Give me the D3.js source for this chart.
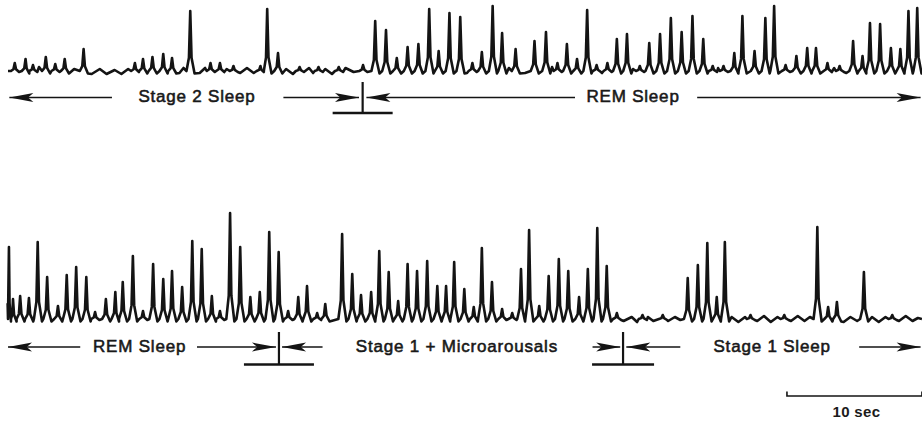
<!DOCTYPE html>
<html>
<head>
<meta charset="utf-8">
<script src="https://cdn.jsdelivr.net/npm/d3@7"></script>
<style>
  html, body { margin: 0; padding: 0; background: #ffffff; }
  svg { display: block; }
  text { font-family: "Liberation Sans", Arial, Helvetica, sans-serif; fill: #1b1b1b; }
</style>
</head>
<body>
<svg id="chart" width="922" height="421"></svg>
<script>
// ---------------- DATA (times in seconds, amplitudes in arbitrary units) ----------------
// Upper trace: Stage 2 sleep -> REM sleep (main deflections)
const topTimes = [0.5, 1.3, 1.85, 2.8, 3.5, 4.2, 5.6, 9.4, 10.0, 10.7, 11.5, 12.15, 13.5, 15.0, 15.7, 16.7, 18.7, 19.2, 20.0,
  21.6, 23.0, 24.5, 26.3, 27.2, 28.0, 28.8, 29.6, 30.4, 31.2, 31.9, 32.7, 33.5, 34.4, 35.1, 35.9, 36.6, 37.6, 39.0, 39.85, 40.7,
  41.4, 42.15, 42.9, 43.6, 44.4, 45.1, 45.85, 46.8, 47.5, 48.3, 49.1, 49.9, 50.7, 51.5, 52.2, 53.0, 53.8, 54.4, 55.3, 56.1,
  56.75, 57.6, 58.4, 59.2, 59.85, 60.7, 61.6, 62.6, 63.3, 63.85, 64.6, 65.4, 66.1, 66.7, 67.35];
const topAmps = [8, 12, 6, 14, 7, 12, 22, 8, 12, 14, 17, 13, 60, 8, 8, 5, 5, 62, 18,
  4, 4, 4, 6, 50, 41, 13, 24, 27, 62, 20, 58, 54, 8, 19, 65, 38, 22, 30, 39, 8,
  27, 12, 61, 6, 8, 32, 37, 5, 28, 37, 53, 39, 55, 32, 5, 5, 18, 55, 20, 53,
  65, 6, 15, 23, 23, 8, 5, 30, 15, 48, 47, 23, 22, 60, 63];
// Upper trace: small baseline ripple
const topRippleTimes = [0.2, 0.85, 2.3, 3.15, 3.9, 4.9, 6.2, 6.8, 7.3, 7.9, 8.4, 8.9, 12.7, 13.0, 14.2, 14.6, 16.2, 17.2, 17.7, 18.2,
  20.6, 21.1, 22.3, 22.6, 23.5, 24.0, 25.0, 25.6, 34.0, 37.1, 38.3, 40.3, 44.0, 46.3, 52.6, 57.1, 61.2, 62.1];
const topRippleAmps = [3, -2, 4, -2, 3, 2, -3, 2, -3, 1, -3, 2, -2, 3, -2, 3, 2, -2, 3, -2,
  2, -3, 3, -2, 2, -3, 3, -1, -2, 3, -2, 4, -2, 2, 3, -2, 3, -2];

// Lower trace: REM sleep -> Stage 1 + microarousals -> Stage 1 sleep (main deflections)
const bottomTimes = [0.07, 0.37, 0.9, 1.55, 2.2, 2.9, 3.7, 4.35, 5.05, 5.8, 6.45, 7.25, 7.95, 8.5, 9.25, 10.0, 10.75, 11.5,
  12.15, 12.9, 13.65, 14.35, 15.1, 15.7, 16.45, 17.2, 17.95, 18.65, 19.35, 20.05, 20.75, 21.5, 22.15, 22.9, 23.5, 24.75,
  25.5, 26.15, 26.9, 27.5, 28.2, 28.9, 29.6, 30.3, 31.05, 31.8, 32.45, 33.05, 33.8, 34.5, 35.1, 35.85, 36.6, 37.35, 38.0,
  38.6, 39.35, 40.05, 40.8, 41.5, 42.3, 42.95, 43.65, 44.35, 45.1, 47.0, 48.5, 50.35, 51.1, 51.8, 52.5, 53.1, 55.0, 57.5,
  59.95, 60.75, 61.4, 63.4, 65.5];
const bottomAmps = [72, 20, 23, 21, 77, 42, 13, 44, 52, 42, 7, 20, 27, 37, 63, 8, 55, 40,
  48, 32, 78, 70, 23, 8, 106, 72, 22, 27, 87, 67, 8, 22, 33, 6, 15, 85,
  45, 24, 27, 68, 47, 18, 55, 48, 58, 33, 33, 57, 30, 12, 71, 37, 10, 6, 50,
  89, 13, 43, 60, 48, 22, 50, 91, 53, 6, 4, 4, 41, 54, 76, 22, 77, 4, 4,
  92, 12, 17, 47, 4];
// Lower trace: small baseline ripple
const bottomRippleTimes = [45.6, 46.2, 46.6, 47.4, 47.8, 48.2, 48.9, 49.4, 49.8, 53.6, 54.1, 54.6, 55.5, 56.0, 56.5, 57.0,
  58.0, 58.5, 59.0, 59.4, 61.9, 62.4, 62.9, 64.0, 64.5, 65.0, 66.0, 66.5, 67.0, 67.4];
const bottomRippleAmps = [-2, 2, -3, 2, -2, 3, -2, 2, -1, 2, -3, 2, -2, 3, -3, 2,
  -2, 3, -2, 2, -3, 2, -2, 2, -3, 2, -2, 3, -2, 1];

// Stage labels (text, centre time)
const topLabelText = ["Stage 2 Sleep", "REM Sleep"];
const topLabelTime = [14.0, 46.3];
const bottomLabelText = ["REM Sleep", "Stage 1 + Microarousals", "Stage 1 Sleep"];
const bottomLabelTime = [9.75, 33.25, 56.6];

// Stage transitions (time of the vertical marker)
const topTransitions = [26.27];
const bottomTransitions = [20.07, 45.56];

// Arrow segments: [start time, end time, arrow-head side]
const topArrows = [[0.1, 7.7, "start"], [20.4, 26.0, "end"], [26.55, 42.0, "start"], [51.05, 67.6, "end"]];
const bottomArrows = [[0.0, 5.35, "start"], [14.0, 19.85, "end"], [20.3, 23.3, "start"], [43.3, 45.35, "end"], [45.8, 49.8, "start"], [63.05, 67.6, "end"]];

// Scale bar
const scaleBarSeconds = 10;
const scaleBarStart = 57.7;
const scaleBarLabel = "10 sec";

// ---------------- DRAWING ----------------
const svg = d3.select("#chart");
const x = d3.scaleLinear().domain([0, 67.5]).range([8, 919.25]);
const yTop = d3.scaleLinear().domain([0, 100]).range([71, -29]);
const yBottom = d3.scaleLinear().domain([0, 100]).range([319, 219]);
const ink = "#141414";

function tracePoints(times, amps, rTimes, rAmps, tEnd) {
  const pts = [[0, 0]];
  const windows = [];
  times.forEach((t, i) => {
    const prev = i > 0 ? times[i - 1] : -1;
    const next = i < times.length - 1 ? times[i + 1] : tEnd + 1;
    const wl = Math.min(0.28, (t - prev) / 2);
    const wr = Math.min(0.32, (next - t) / 2);
    const a = amps[i];
    const t0 = Math.max(0, t - wl), t1 = Math.min(tEnd, t + wr);
    windows.push([t0, t1]);
    pts.push([t0, 0]);
    pts.push([t - wl * 0.35, a * 0.22]);
    pts.push([t, a]);
    pts.push([t + wr * 0.3, a * 0.22]);
    pts.push([t1, a > 10 ? -2.5 : -1]);
  });
  rTimes.forEach((t, i) => {
    if (!windows.some(([a, b]) => t >= a - 0.05 && t <= b + 0.05)) pts.push([t, rAmps[i]]);
  });
  pts.push([tEnd, 0]);
  pts.sort((p, q) => p[0] - q[0]);
  return pts;
}

function drawTrace(times, amps, rTimes, rAmps, y) {
  const line = d3.line().x(d => x(d[0])).y(d => y(d[1])).curve(d3.curveLinear);
  svg.append("path")
    .attr("d", line(tracePoints(times, amps, rTimes, rAmps, 67.7)))
    .attr("fill", "none")
    .attr("stroke", ink)
    .attr("stroke-width", 2.6)
    .attr("stroke-linejoin", "round");
}

drawTrace(topTimes, topAmps, topRippleTimes, topRippleAmps, yTop);
drawTrace(bottomTimes, bottomAmps, bottomRippleTimes, bottomRippleAmps, yBottom);

function arrowHead(g, tipX, yy, dir) {
  const L = 24, h = 4.5;
  const p = d3.path();
  p.moveTo(tipX, yy);
  p.lineTo(tipX - dir * L, yy - h);
  p.lineTo(tipX - dir * L * 0.78, yy);
  p.lineTo(tipX - dir * L, yy + h);
  p.closePath();
  g.append("path").attr("d", p.toString()).attr("fill", ink);
}

function drawRow(labels, labelTimes, arrows, transitions, lineY, textY, markTop, markBottom, barHalf) {
  const g = svg.append("g");
  arrows.forEach(([t0, t1, side]) => {
    g.append("line")
      .attr("x1", x(t0)).attr("x2", x(t1))
      .attr("y1", lineY).attr("y2", lineY)
      .attr("stroke", ink).attr("stroke-width", 1.5);
    if (side === "start") arrowHead(g, x(t0), lineY, -1);
    else arrowHead(g, x(t1), lineY, 1);
  });
  transitions.forEach((t, i) => {
    g.append("line")
      .attr("x1", x(t)).attr("x2", x(t))
      .attr("y1", markTop).attr("y2", markBottom)
      .attr("stroke", ink).attr("stroke-width", 2.2);
    g.append("line")
      .attr("x1", x(t) - barHalf[i]).attr("x2", x(t) + barHalf[i])
      .attr("y1", markBottom).attr("y2", markBottom)
      .attr("stroke", ink).attr("stroke-width", 2.4);
  });
  labels.forEach((txt, i) => {
    g.append("text")
      .attr("x", x(labelTimes[i]))
      .attr("y", textY)
      .attr("text-anchor", "middle")
      .attr("font-size", 17)
      .attr("letter-spacing", "0.8px")
      .attr("stroke", ink).attr("stroke-width", 0.55)
      .attr("xml:space", "preserve")
      .text(txt);
  });
}

drawRow(topLabelText, topLabelTime, topArrows, topTransitions, 97.5, 102, 82, 113, [30]);
drawRow(bottomLabelText, bottomLabelTime, bottomArrows, bottomTransitions, 347, 352, 332, 364.5, [35, 31]);

// Scale bar
const sb = svg.append("g");
const sx0 = x(scaleBarStart), sx1 = x(scaleBarStart + scaleBarSeconds);
sb.append("path")
  .attr("d", `M${sx0},391.5 V396 H${sx1} V391.5`)
  .attr("fill", "none").attr("stroke", ink).attr("stroke-width", 1.6);
sb.append("text")
  .attr("x", (sx0 + sx1) / 2 + 2)
  .attr("y", 416.5)
  .attr("text-anchor", "middle")
  .attr("font-size", 15)
  .attr("font-weight", "bold")
  .attr("letter-spacing", "0.3px")
  .text(scaleBarLabel);
</script>
</body>
</html>
